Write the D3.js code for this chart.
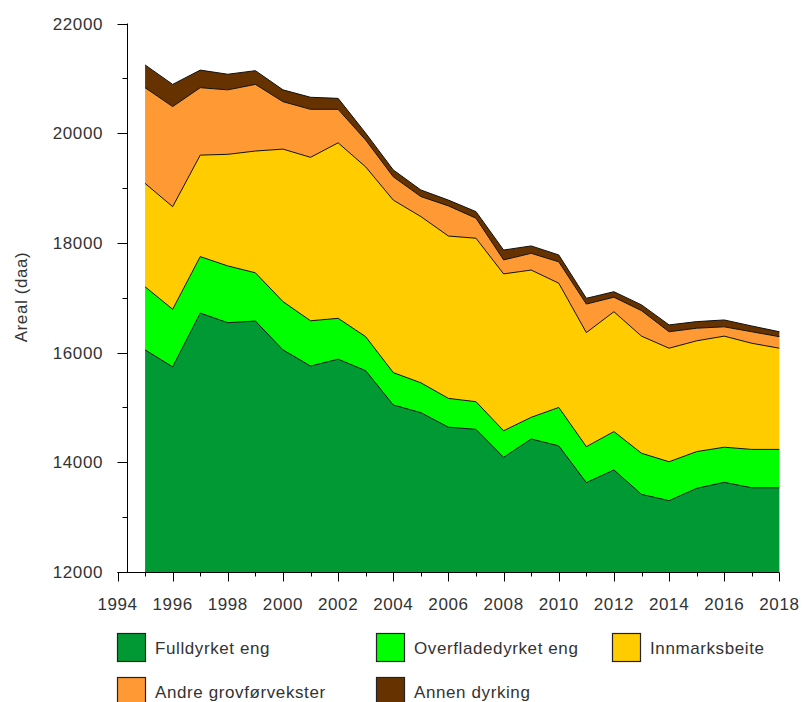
<!DOCTYPE html>
<html>
<head>
<meta charset="utf-8">
<script src="https://cdn.jsdelivr.net/npm/d3@7/dist/d3.min.js"></script>
<style>
  html, body { margin: 0; padding: 0; background: #fff; }
  svg text { font-family: "Liberation Sans", Arial, sans-serif; fill: #333; }
</style>
</head>
<body>
<svg id="chart" width="802" height="702"></svg>
<script>
// Areal per år, fordelt på kategori (daa)
const years = [1995, 1996, 1997, 1998, 1999, 2000, 2001, 2002, 2003, 2004, 2005, 2006,
               2007, 2008, 2009, 2010, 2011, 2012, 2013, 2014, 2015, 2016, 2017, 2018];
const fulldyrketEng = [16050, 15740, 16720, 16545, 16575, 16050, 15755, 15880, 15670, 15045, 14905, 14640,
                       14600, 14090, 14425, 14300, 13630, 13860, 13415, 13300, 13525, 13635, 13535, 13535];
const overflatedyrketEng = [1150, 1050, 1030, 1035, 880, 880, 825, 745, 620, 590, 545, 525,
                            505, 485, 395, 700, 655, 700, 750, 710, 670, 640, 700, 700];
const innmarksbeite = [1885, 1870, 1850, 2035, 2220, 2780, 2980, 3200, 3095, 3145, 3030, 2960,
                       2980, 2860, 2685, 2265, 2080, 2185, 2135, 2070, 2020, 2025, 1935, 1845];
const andreGrovfor = [1745, 1825, 1230, 1175, 1215, 865, 875, 610, 490, 425, 365, 550,
                      365, 255, 305, 390, 520, 265, 465, 300, 230, 170, 210, 210];
const annenDyrking = [415, 405, 320, 285, 250, 215, 220, 200, 125, 125, 120, 105,
                      120, 180, 135, 125, 105, 100, 105, 125, 120, 125, 105, 90];

const seriesNames = ["Fulldyrket eng", "Overfladedyrket eng", "Innmarksbeite",
                     "Andre grovførvekster", "Annen dyrking"];
const seriesColors = ["#009933", "#00ff00", "#ffcc00", "#ff9933", "#663300"];
const yTicks = [12000, 14000, 16000, 18000, 20000, 22000];
const xTicks = [1994, 1996, 1998, 2000, 2002, 2004, 2006, 2008, 2010, 2012, 2014, 2016, 2018];

const seriesValues = [fulldyrketEng, overflatedyrketEng, innmarksbeite, andreGrovfor, annenDyrking];
const rows = years.map((yr, i) => {
  const r = { year: yr };
  seriesNames.forEach((n, k) => { r[n] = seriesValues[k][i]; });
  return r;
});

const svg = d3.select("#chart");
const x = d3.scaleLinear().domain([1994, 2018]).range([117.5, 779.4]);
const y = d3.scaleLinear().domain([12000, 22000]).range([572, 23.5]);

const stacked = d3.stack().keys(seriesNames)(rows);

const area = d3.area()
  .x(d => x(d.data.year))
  .y0(d => y(Math.max(d[0], 12000)))
  .y1(d => y(d[1]));
const topLine = d3.line()
  .x(d => x(d.data.year))
  .y(d => y(d[1]));

const layers = svg.append("g");
layers.selectAll("path.area")
  .data(stacked)
  .join("path")
  .attr("class", "area")
  .attr("fill", (d, i) => seriesColors[i])
  .attr("d", area);
layers.selectAll("path.edge")
  .data(stacked)
  .join("path")
  .attr("class", "edge")
  .attr("fill", "none")
  .attr("stroke", "#111")
  .attr("stroke-width", 1)
  .attr("d", topLine);

// Y axis: vertical line with major and minor ticks pointing out
const yAxisX = 127.5;
const yAxisG = svg.append("g");
yAxisG.append("line")
  .attr("x1", yAxisX).attr("x2", yAxisX)
  .attr("y1", y(22000)).attr("y2", y(12000))
  .attr("stroke", "#000").attr("stroke-width", 1);
const yMinor = d3.range(13000, 22000, 2000);
yAxisG.selectAll("line.ymaj").data(yTicks).join("line")
  .attr("class", "ymaj")
  .attr("x1", yAxisX - 10).attr("x2", yAxisX)
  .attr("y1", d => Math.round(y(d)) + 0.5).attr("y2", d => Math.round(y(d)) + 0.5)
  .attr("stroke", "#000");
yAxisG.selectAll("line.ymin").data(yMinor).join("line")
  .attr("class", "ymin")
  .attr("x1", yAxisX - 5).attr("x2", yAxisX)
  .attr("y1", d => Math.round(y(d)) + 0.5).attr("y2", d => Math.round(y(d)) + 0.5)
  .attr("stroke", "#000");
yAxisG.selectAll("text").data(yTicks).join("text")
  .attr("x", 103)
  .attr("y", d => y(d))
  .attr("dy", "0.36em")
  .attr("text-anchor", "end")
  .style("font-size", "17px")
  .style("letter-spacing", "0.6px")
  .text(d => d);

// X axis
const xAxisY = 572.5;
const xAxisG = svg.append("g");
xAxisG.append("line")
  .attr("x1", x(1994)).attr("x2", x(2018))
  .attr("y1", xAxisY).attr("y2", xAxisY)
  .attr("stroke", "#000");
const xMinor = d3.range(1995, 2018, 2);
xAxisG.selectAll("line.xmaj").data(xTicks).join("line")
  .attr("class", "xmaj")
  .attr("x1", d => Math.round(x(d)) + 0.5).attr("x2", d => Math.round(x(d)) + 0.5)
  .attr("y1", xAxisY).attr("y2", xAxisY + 9)
  .attr("stroke", "#000");
xAxisG.selectAll("line.xmin").data(xMinor).join("line")
  .attr("class", "xmin")
  .attr("x1", d => Math.round(x(d)) + 0.5).attr("x2", d => Math.round(x(d)) + 0.5)
  .attr("y1", xAxisY).attr("y2", xAxisY + 4)
  .attr("stroke", "#000");
xAxisG.selectAll("text").data(xTicks).join("text")
  .attr("x", d => x(d))
  .attr("y", 604)
  .attr("dy", "0.36em")
  .attr("text-anchor", "middle")
  .style("font-size", "17px")
  .style("letter-spacing", "0.6px")
  .text(d => d);

// Y axis title
svg.append("text")
  .attr("transform", "translate(27,297) rotate(-90)")
  .attr("text-anchor", "middle")
  .style("font-size", "17px")
  .style("letter-spacing", "0.6px")
  .text("Areal (daa)");

// Legend
const legendPos = [
  { bx: 117, ty: 648 }, { bx: 376, ty: 648 }, { bx: 612, ty: 648 },
  { bx: 117, ty: 692 }, { bx: 376, ty: 692 }
];
const legend = svg.append("g");
seriesNames.forEach((name, i) => {
  const p = legendPos[i];
  legend.append("rect")
    .attr("x", p.bx + 0.5).attr("y", p.ty - 14.5)
    .attr("width", 28).attr("height", 28)
    .attr("fill", seriesColors[i])
    .attr("stroke", "#222").attr("stroke-width", 1.2);
  legend.append("text")
    .attr("x", p.bx + 38).attr("y", p.ty)
    .attr("dy", "0.36em")
    .style("font-size", "17px")
    .style("letter-spacing", "0.6px")
    .text(name);
});
</script>
</body>
</html>
